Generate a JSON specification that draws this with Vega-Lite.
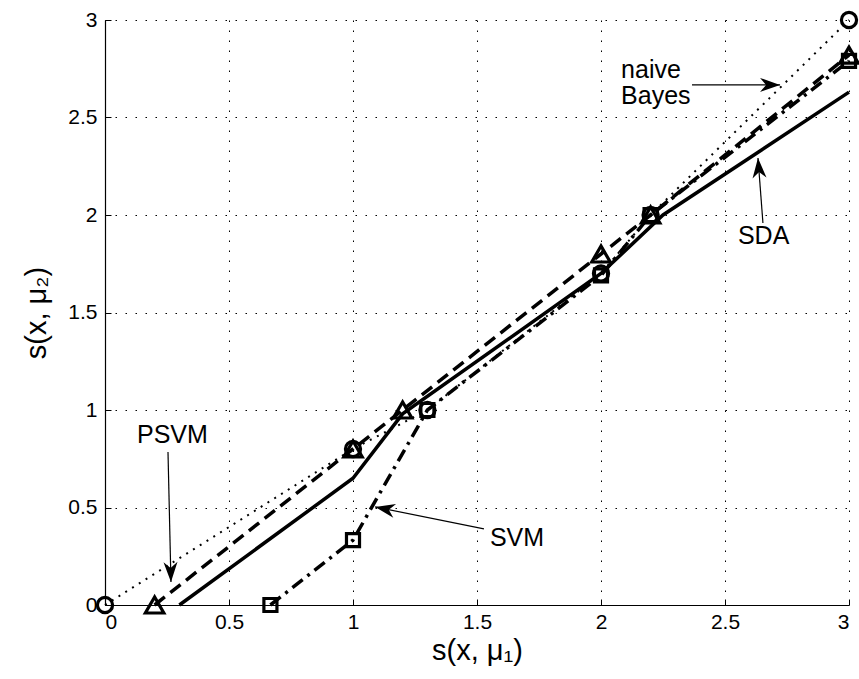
{
  "$schema": "https://vega.github.io/schema/vega-lite/v6.json",
  "width": 744,
  "height": 585,
  "autosize": "none",
  "padding": {"left": 105, "top": 20, "right": 10, "bottom": 74},
  "background": "white",
  "config": {
    "view": {"stroke": null},
    "font": "Liberation Sans",
    "axis": {
      "grid": true,
      "gridColor": "#000000",
      "gridOpacity": 1,
      "gridWidth": 1,
      "gridDash": [1.5, 8.5],
      "domainColor": "#000000",
      "domainWidth": 1.2,
      "tickColor": "#000000",
      "tickSize": -6,
      "labelColor": "#000000",
      "labelFontSize": 21,
      "labelFont": "Liberation Sans",
      "titleFont": "Liberation Sans",
      "titleFontSize": 29,
      "titleFontWeight": "normal",
      "titleColor": "#000000"
    }
  },
  "datasets": {
    "curves": [
      {"s": "NB", "x": 0, "y": 0},
      {"s": "NB", "x": 1, "y": 0.8},
      {"s": "NB", "x": 1.3, "y": 1.0},
      {"s": "NB", "x": 2, "y": 1.7},
      {"s": "NB", "x": 2.2, "y": 2.0},
      {"s": "NB", "x": 3, "y": 3.0},
      {"s": "PSVM", "x": 0.2, "y": 0},
      {"s": "PSVM", "x": 1, "y": 0.8},
      {"s": "PSVM", "x": 1.2, "y": 1.0},
      {"s": "PSVM", "x": 2, "y": 1.8},
      {"s": "PSVM", "x": 2.2, "y": 2.0},
      {"s": "PSVM", "x": 3, "y": 2.82},
      {"s": "SVM", "x": 0.667, "y": 0},
      {"s": "SVM", "x": 1, "y": 0.333},
      {"s": "SVM", "x": 1.3, "y": 1.0},
      {"s": "SVM", "x": 2, "y": 1.69},
      {"s": "SVM", "x": 2.2, "y": 2.0},
      {"s": "SVM", "x": 3, "y": 2.79},
      {"s": "SDA", "x": 0.3, "y": 0},
      {"s": "SDA", "x": 1, "y": 0.65},
      {"s": "SDA", "x": 1.2, "y": 0.98},
      {"s": "SDA", "x": 2, "y": 1.7},
      {"s": "SDA", "x": 2.25, "y": 2.0},
      {"s": "SDA", "x": 3, "y": 2.63}
    ],
    "arrows": [
      {"a": "NB", "x": 2.367, "y": 2.667, "x2": 2.722, "y2": 2.667},
      {"a": "SDA", "x": 2.653, "y": 1.959, "x2": 2.633, "y2": 2.292},
      {"a": "SVM", "x": 1.528, "y": 0.39, "x2": 1.089, "y2": 0.503},
      {"a": "PSVM", "x": 0.254, "y": 0.785, "x2": 0.266, "y2": 0.118}
    ],
    "labels": [
      {"label": "naive\nBayes", "x": 2.081, "y": 2.703},
      {"label": "SDA", "x": 2.552, "y": 1.851},
      {"label": "SVM", "x": 1.552, "y": 0.303},
      {"label": "PSVM", "x": 0.129, "y": 0.831}
    ]
  },
  "encoding": {
    "x": {
      "field": "x",
      "type": "quantitative",
      "scale": {"domain": [0, 3], "nice": false, "zero": false},
      "axis": {
        "title": "s(x, μ₁)",
        "values": [0, 0.5, 1, 1.5, 2, 2.5, 3],
        "format": "~g",
        "labelPadding": 12,
        "titlePadding": 4
      }
    },
    "y": {
      "field": "y",
      "type": "quantitative",
      "scale": {"domain": [0, 3], "nice": false, "zero": false},
      "axis": {
        "title": "s(x, μ₂)",
        "values": [0, 0.5, 1, 1.5, 2, 2.5, 3],
        "format": "~g",
        "labelPadding": 14,
        "titlePadding": 16
      }
    }
  },
  "layer": [
    {
      "data": {"name": "curves"},
      "transform": [{"filter": "datum.s === 'NB'"}],
      "mark": {"type": "line", "color": "#000000", "strokeWidth": 2, "strokeDash": [2, 6]},
      "encoding": {}
    },
    {
      "data": {"name": "curves"},
      "transform": [{"filter": "datum.s === 'PSVM'"}],
      "mark": {"type": "line", "color": "#000000", "strokeWidth": 3.5, "strokeDash": [13, 7]},
      "encoding": {}
    },
    {
      "data": {"name": "curves"},
      "transform": [{"filter": "datum.s === 'SVM'"}],
      "mark": {"type": "line", "color": "#000000", "strokeWidth": 3.5, "strokeDash": [13, 6, 3, 6]},
      "encoding": {}
    },
    {
      "data": {"name": "curves"},
      "transform": [{"filter": "datum.s === 'SDA'"}],
      "mark": {"type": "line", "color": "#000000", "strokeWidth": 3.5},
      "encoding": {}
    },
    {
      "data": {"name": "curves"},
      "transform": [{"filter": "datum.s === 'NB'"}],
      "mark": {"type": "point", "shape": "circle", "filled": false, "stroke": "#000000", "strokeWidth": 3.2, "size": 230, "opacity": 1},
      "encoding": {}
    },
    {
      "data": {"name": "curves"},
      "transform": [{"filter": "datum.s === 'PSVM'"}],
      "mark": {"type": "point", "shape": "triangle-up", "filled": false, "stroke": "#000000", "strokeWidth": 3.2, "size": 340, "opacity": 1},
      "encoding": {}
    },
    {
      "data": {"name": "curves"},
      "transform": [{"filter": "datum.s === 'SVM'"}],
      "mark": {"type": "point", "shape": "square", "filled": false, "stroke": "#000000", "strokeWidth": 3.2, "size": 170, "opacity": 1},
      "encoding": {}
    },
    {
      "data": {"name": "arrows"},
      "mark": {"type": "rule", "color": "#000000", "strokeWidth": 1.2},
      "encoding": {
        "x2": {"field": "x2"},
        "y2": {"field": "y2"}
      }
    },
    {
      "data": {"name": "arrows"},
      "transform": [{"filter": "datum.a === 'NB'"}],
      "mark": {"type": "point", "shape": "M0,0 L-2,-0.7 L-1.4,0 L-2,0.7 Z", "filled": true, "color": "#000000", "size": 400, "angle": 0, "opacity": 1},
      "encoding": {
        "x": {"field": "x2", "type": "quantitative"},
        "y": {"field": "y2", "type": "quantitative"}
      }
    },
    {
      "data": {"name": "arrows"},
      "transform": [{"filter": "datum.a === 'SDA'"}],
      "mark": {"type": "point", "shape": "M0,0 L-2,-0.7 L-1.4,0 L-2,0.7 Z", "filled": true, "color": "#000000", "size": 400, "angle": 265.6, "opacity": 1},
      "encoding": {
        "x": {"field": "x2", "type": "quantitative"},
        "y": {"field": "y2", "type": "quantitative"}
      }
    },
    {
      "data": {"name": "arrows"},
      "transform": [{"filter": "datum.a === 'SVM'"}],
      "mark": {"type": "point", "shape": "M0,0 L-2,-0.7 L-1.4,0 L-2,0.7 Z", "filled": true, "color": "#000000", "size": 400, "angle": 191.4, "opacity": 1},
      "encoding": {
        "x": {"field": "x2", "type": "quantitative"},
        "y": {"field": "y2", "type": "quantitative"}
      }
    },
    {
      "data": {"name": "arrows"},
      "transform": [{"filter": "datum.a === 'PSVM'"}],
      "mark": {"type": "point", "shape": "M0,0 L-2,-0.7 L-1.4,0 L-2,0.7 Z", "filled": true, "color": "#000000", "size": 400, "angle": 88.7, "opacity": 1},
      "encoding": {
        "x": {"field": "x2", "type": "quantitative"},
        "y": {"field": "y2", "type": "quantitative"}
      }
    },
    {
      "data": {"name": "labels"},
      "mark": {"type": "text", "align": "left", "baseline": "alphabetic", "fontSize": 25, "lineHeight": 26, "lineBreak": "\n", "font": "Liberation Sans", "color": "#000000"},
      "encoding": {
        "text": {"field": "label"}
      }
    }
  ]
}
